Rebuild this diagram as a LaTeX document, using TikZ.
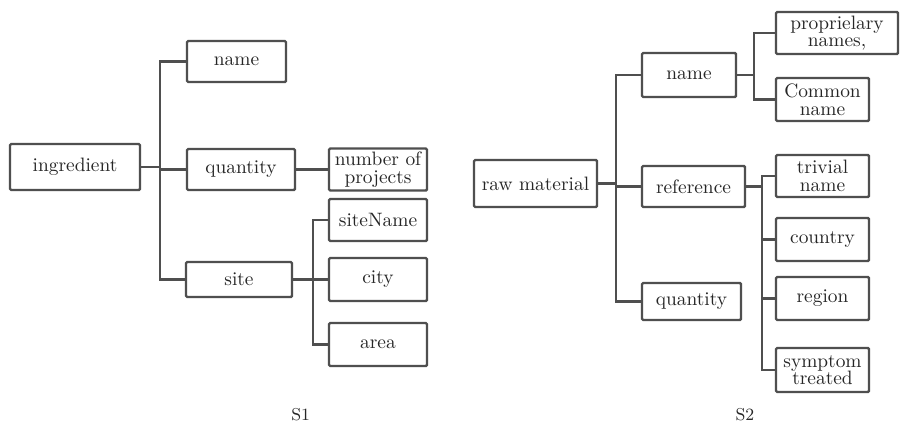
\documentclass[tikz,border=0pt]{standalone}
\begin{document}
\begin{tikzpicture}[x=0.5pt,y=-0.5pt,
  line width=1pt,
  box/.style={draw=linegray, line width=1.2pt, rounded corners=0.6pt, fill=white,
    inner sep=0pt, align=center, text=txtgray,
    font=\fontsize{9.7}{8.8}\selectfont},
  conn/.style={draw=linegray, line width=1.2pt},
  captext/.style={text=txtgray, font=\fontsize{8.6}{10}\selectfont}]
\definecolor{linegray}{HTML}{4F4F4F}
\definecolor{txtgray}{HTML}{262626}
\useasboundingbox[fill=white] (0,0) rectangle (900,423);
% ---------- S1 ----------
\node[box, minimum width=65pt, minimum height=23pt] (ingr) at (75,167) {ingredient};
\node[box, minimum width=49.5pt, minimum height=20.5pt] (name1) at (236.5,61.5) {name};
\node[box, minimum width=54pt, minimum height=20.5pt] (qty1) at (241,169.5) {quantity};
\node[box, minimum width=53pt, minimum height=17.5pt] (site) at (239,279.5) {site};
\node[box, minimum width=49pt, minimum height=21pt] (nop) at (378,169.5) {number of\\projects};
\node[box, minimum width=49pt, minimum height=21pt] (sitename) at (378,220) {siteName};
\node[box, minimum width=49pt, minimum height=21.5pt] (city) at (378,279.5) {city};
\node[box, minimum width=49pt, minimum height=21.5pt] (area) at (378,344.5) {area};
\coordinate (j1) at (160,0);
\coordinate (j2) at (313,0);
\draw[conn] (name1.west) -- (name1.west -| j1) |- (site.west);
\draw[conn] (ingr.east) -- (ingr.east -| j1);
\draw[conn] (qty1.west) -- (qty1.west -| j1);
\draw[conn] (qty1.east) -- (nop.west);
\draw[conn] (sitename.west) -- (sitename.west -| j2) |- (area.west);
\draw[conn] (site.east) -- (city.west);
\node[captext] (s1) at (300.7,415) {S1};
% ---------- S2 ----------
\node[box, minimum width=61.5pt, minimum height=23.5pt] (raw) at (535.5,183.5) {raw material};
\node[box, minimum width=47pt, minimum height=22pt] (name2) at (689,75) {name};
\node[box, minimum width=51.5pt, minimum height=20.5pt] (ref) at (693.5,186.5) {reference};
\node[box, minimum width=49.5pt, minimum height=18.5pt] (qty2) at (691.5,301.5) {quantity};
\node[box, minimum width=61pt, minimum height=21pt] (prop) at (837,33) {proprielary\\names,};
\node[box, minimum width=46.5pt, minimum height=21.5pt] (common) at (822.5,99.5) {Common\\name};
\node[box, minimum width=46.5pt, minimum height=21pt] (trivial) at (822.5,176) {trivial\\name};
\node[box, minimum width=46.5pt, minimum height=21.5pt] (country) at (822.5,239.5) {country};
\node[box, minimum width=46.5pt, minimum height=21.5pt] (region) at (822.5,298.5) {region};
\node[box, minimum width=46.5pt, minimum height=22pt] (symptom) at (822.5,370) {symptom\\treated};
\coordinate (j3) at (616,0);
\coordinate (j4) at (754,0);
\coordinate (j5) at (762,0);
\draw[conn] (name2.west) -- (name2.west -| j3) |- (qty2.west);
\draw[conn] (raw.east) -- (raw.east -| j3);
\draw[conn] (ref.west) -- (ref.west -| j3);
\draw[conn] (prop.west) -- (prop.west -| j4) |- (common.west);
\draw[conn] (name2.east) -- (name2.east -| j4);
\draw[conn] (trivial.west) -- (trivial.west -| j5) |- (symptom.west);
\draw[conn] (ref.east) -- (ref.east -| j5);
\draw[conn] (country.west) -- (country.west -| j5);
\draw[conn] (region.west) -- (region.west -| j5);
\node[captext] (s2) at (745,415) {S2};
\end{tikzpicture}
\end{document}
